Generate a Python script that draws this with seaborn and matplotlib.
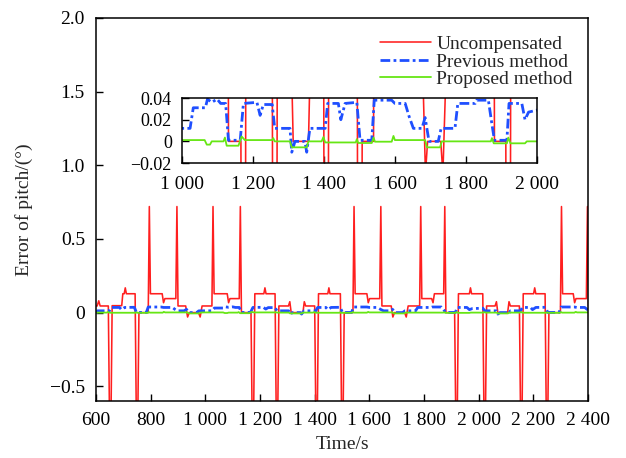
import matplotlib
matplotlib.use('Agg')
import matplotlib.pyplot as plt
import pandas as pd
import seaborn as sns

# (time, error) breakpoints
red_pts = [(600, 0.045), (604, 0.045), (610, 0.080), (615, 0.045), (645, 0.045), (652, -1.2),
           (659, 0.047), (694, 0.047), (698, 0.128), (703, 0.128), (707, 0.168), (711, 0.128),
           (743, 0.128), (750, -1.2), (757, 0.0), (791, 0.0), (795, 0.72), (799, 0.128),
           (842, 0.128), (847, 0.067), (852, 0.095), (892, 0.095), (896, 0.72), (900, 0.045),
           (928, 0.045), (935, -0.03), (941, 0.0), (975, 0.0), (981, -0.03), (988, 0.045),
           (1024, 0.045), (1028, 0.72), (1032, 0.128), (1080, 0.128), (1085, 0.067), (1090, 0.095),
           (1124, 0.095), (1128, 0.72), (1132, 0.0), (1167, 0.0), (1174, -1.2), (1181, 0.128),
           (1214, 0.128), (1218, 0.168), (1222, 0.128), (1255, 0.128), (1262, -1.2), (1269, 0.045),
           (1304, 0.045), (1309, 0.074), (1314, 0.0), (1357, 0.0), (1362, 0.074), (1367, 0.045),
           (1400, 0.045), (1407, -1.2), (1414, 0.128), (1448, 0.128), (1452, 0.168), (1456, 0.128),
           (1494, 0.128), (1501, -1.2), (1508, 0.0), (1540, 0.0), (1544, 0.72), (1548, 0.128),
           (1591, 0.128), (1596, 0.067), (1601, 0.095), (1638, 0.095), (1642, 0.72), (1646, 0.045),
           (1680, 0.045), (1686, -0.03), (1692, 0.0), (1729, 0.0), (1735, -0.03), (1742, 0.045),
           (1784, 0.045), (1788, 0.72), (1792, 0.095), (1828, 0.095), (1833, 0.067), (1838, 0.128),
           (1872, 0.128), (1876, 0.72), (1880, 0.0), (1912, 0.0), (1919, -1.2), (1926, 0.128),
           (1966, 0.128), (1970, 0.168), (1974, 0.128), (2015, 0.128), (2022, -1.2), (2029, 0.045),
           (2060, 0.045), (2065, 0.074), (2070, 0.0), (2106, 0.0), (2111, 0.074), (2116, 0.045),
           (2149, 0.045), (2156, -1.2), (2163, 0.128), (2201, 0.128), (2205, 0.168), (2209, 0.128),
           (2243, 0.128), (2250, -1.2), (2257, 0.0), (2299, 0.0), (2303, 0.72), (2307, 0.128),
           (2346, 0.128), (2351, 0.067), (2356, 0.095), (2394, 0.095), (2398, 0.72), (2402, 0.045)]

blue_pts = [(600, -0.004), (606, 0.012), (649, 0.012), (656, 0.035), (686, 0.035), (693, 0.020),
            (705, 0.035), (740, 0.036), (748, 0.001), (784, 0.001), (791, 0.038), (838, 0.038),
            (847, 0.035), (880, 0.035), (888, 0.023), (898, 0.012), (922, 0.012), (931, 0.022),
            (936, 0.012), (942, 0.0), (968, 0.0), (976, 0.012), (1024, 0.012), (1033, 0.031),
            (1067, 0.031), (1073, 0.039), (1085, 0.036), (1100, 0.039), (1110, 0.035), (1124, 0.035),
            (1132, 0.001), (1165, 0.001), (1174, 0.035), (1212, 0.036), (1221, 0.024), (1230, 0.034),
            (1255, 0.034), (1262, 0.012), (1305, 0.012), (1310, -0.010), (1319, 0.0), (1347, 0.0),
            (1352, -0.010), (1361, 0.012), (1404, 0.012), (1411, 0.035), (1441, 0.035), (1448, 0.020),
            (1460, 0.035), (1493, 0.036), (1502, 0.001), (1535, 0.001), (1542, 0.038), (1591, 0.038),
            (1600, 0.035), (1629, 0.035), (1640, 0.023), (1652, 0.012), (1676, 0.012), (1685, 0.022),
            (1690, 0.012), (1696, 0.0), (1722, 0.0), (1730, 0.012), (1769, 0.012), (1777, 0.035),
            (1826, 0.035), (1830, 0.038), (1863, 0.038), (1871, 0.020), (1880, 0.001), (1915, 0.001),
            (1921, 0.035), (1957, 0.035), (1966, 0.020), (1976, 0.027), (2015, 0.030), (2022, 0.012),
            (2065, 0.012), (2070, -0.010), (2078, 0.0), (2104, 0.0), (2109, -0.010), (2116, 0.012),
            (2153, 0.012), (2160, 0.035), (2190, 0.035), (2197, 0.020), (2209, 0.035), (2244, 0.036),
            (2253, 0.001), (2294, 0.001), (2302, 0.038), (2350, 0.038), (2359, 0.035), (2388, 0.035),
            (2396, 0.023), (2400, 0.018)]

green_pts = [(600, 0.0), (639, 0.0), (644, 0.004), (650, -0.001), (745, -0.001), (748, 0.002),
             (752, -0.0015), (790, -0.0015), (793, 0.0035), (797, -0.0003), (844, -0.0003), (848, 0.005),
             (853, 0.0012), (935, 0.0012), (940, -0.0055), (977, -0.0055), (982, 0.0), (995, 0.0012),
             (1065, 0.0012), (1071, -0.003), (1080, -0.003), (1085, 0.0), (1118, 0.0), (1122, 0.0035),
             (1127, -0.004), (1160, -0.004), (1169, 0.0045), (1178, 0.0012), (1255, 0.0012), (1258, 0.003),
             (1262, 0.0), (1305, 0.0), (1310, -0.0055), (1352, -0.0055), (1357, 0.0), (1394, 0.0),
             (1399, 0.004), (1404, -0.001), (1490, -0.001), (1493, 0.002), (1497, -0.0015), (1535, -0.0015),
             (1540, 0.0035), (1544, -0.0003), (1591, -0.0003), (1596, 0.005), (1600, 0.0012), (1685, 0.0012),
             (1690, -0.0055), (1727, -0.0055), (1732, 0.0), (1870, 0.0), (1873, 0.003), (1878, -0.0018),
             (1915, -0.0018), (1919, 0.0035), (1925, -0.0018), (1966, -0.0018), (1971, 0.0), (2015, 0.0),
             (2020, 0.003), (2025, 0.0), (2065, 0.0), (2070, -0.0055), (2107, -0.0055), (2112, 0.0),
             (2150, 0.0), (2155, 0.004), (2160, -0.001), (2248, -0.001), (2251, 0.002), (2256, -0.0015),
             (2296, -0.0015), (2301, 0.0035), (2305, -0.0003), (2350, -0.0003), (2355, 0.005), (2360, 0.0012),
             (2400, 0.0012)]

x_ticks = [600, 800, 1000, 1200, 1400, 1600, 1800, 2000, 2200, 2400]
x_labels = ['600', '800', '1 000', '1 200', '1 400', '1 600', '1 800', '2 000', '2 200', '2 400']
y_ticks = [-0.5, 0, 0.5, 1.0, 1.5, 2.0]
y_labels = ['\u22120.5', '0', '0.5', '1.0', '1.5', '2.0']
in_x_ticks = [1000, 1200, 1400, 1600, 1800, 2000]
in_x_labels = ['1 000', '1 200', '1 400', '1 600', '1 800', '2 000']
in_y_ticks = [-0.02, 0, 0.02, 0.04]
in_y_labels = ['\u22120.02', '0', '0.02', '0.04']

sns.set_theme(style='ticks')
plt.rcParams['font.family'] = ['Liberation Serif', 'DejaVu Serif']

red = pd.DataFrame(red_pts, columns=['t', 'v'])
blue = pd.DataFrame(blue_pts, columns=['t', 'v'])
green = pd.DataFrame(green_pts, columns=['t', 'v'])

RED, BLUE, GREEN = '#ff1f1f', '#1f4fff', '#66e614'
FS = 14


def draw(a, labels=True):
    lab = (lambda s: s) if labels else (lambda s: None)
    sns.lineplot(data=red, x='t', y='v', ax=a, color=RED, lw=1.15, estimator=None,
                 sort=False, legend=False, label=lab('Uncompensated'))
    sns.lineplot(data=blue, x='t', y='v', ax=a, color=BLUE, lw=2.0, estimator=None,
                 sort=False, legend=False, linestyle=(0, (3.5, 1.2, 1.0, 1.2)),
                 label=lab('Previous method'))
    sns.lineplot(data=green, x='t', y='v', ax=a, color=GREEN, lw=1.3, estimator=None,
                 sort=False, legend=False, label=lab('Proposed method'))


def style(a, size, pad):
    for s in a.spines.values():
        s.set_color('black')
        s.set_linewidth(1.1)
    a.tick_params(direction='in', length=5, width=1, colors='black', labelsize=size,
                  top=False, right=False, pad=pad)


fig = plt.figure(figsize=(6.26, 4.58), dpi=100)
ax = fig.add_axes([0.1534, 0.1245, 0.7859, 0.8362])
draw(ax)
ax.set_xlim(600, 2400)
ax.set_ylim(-0.6, 2.0)
ax.set_xticks(x_ticks, x_labels)
ax.set_yticks(y_ticks, y_labels)
style(ax, FS, 8)
ax.set_xlabel('Time/s', fontsize=FS, labelpad=5)
ax.set_ylabel('Error of pitch/(\u00b0)', fontsize=FS, labelpad=12)
ax.legend(loc='upper right', bbox_to_anchor=(0.985, 0.975), frameon=False, fontsize=FS,
          handlelength=2.6, handletextpad=0.3, labelspacing=0.0, borderaxespad=0.0)

ins = fig.add_axes([0.290, 0.644, 0.568, 0.142])
draw(ins, labels=False)
ins.set_xlim(1000, 2000)
ins.set_ylim(-0.02, 0.04)
ins.set_xticks(in_x_ticks, in_x_labels)
ins.set_yticks(in_y_ticks, in_y_labels)
ins.set_xlabel('')
ins.set_ylabel('')
style(ins, 13, 7)
ins.tick_params(axis='x', labelsize=FS, pad=9)

fig.savefig('out.png', dpi=100)
